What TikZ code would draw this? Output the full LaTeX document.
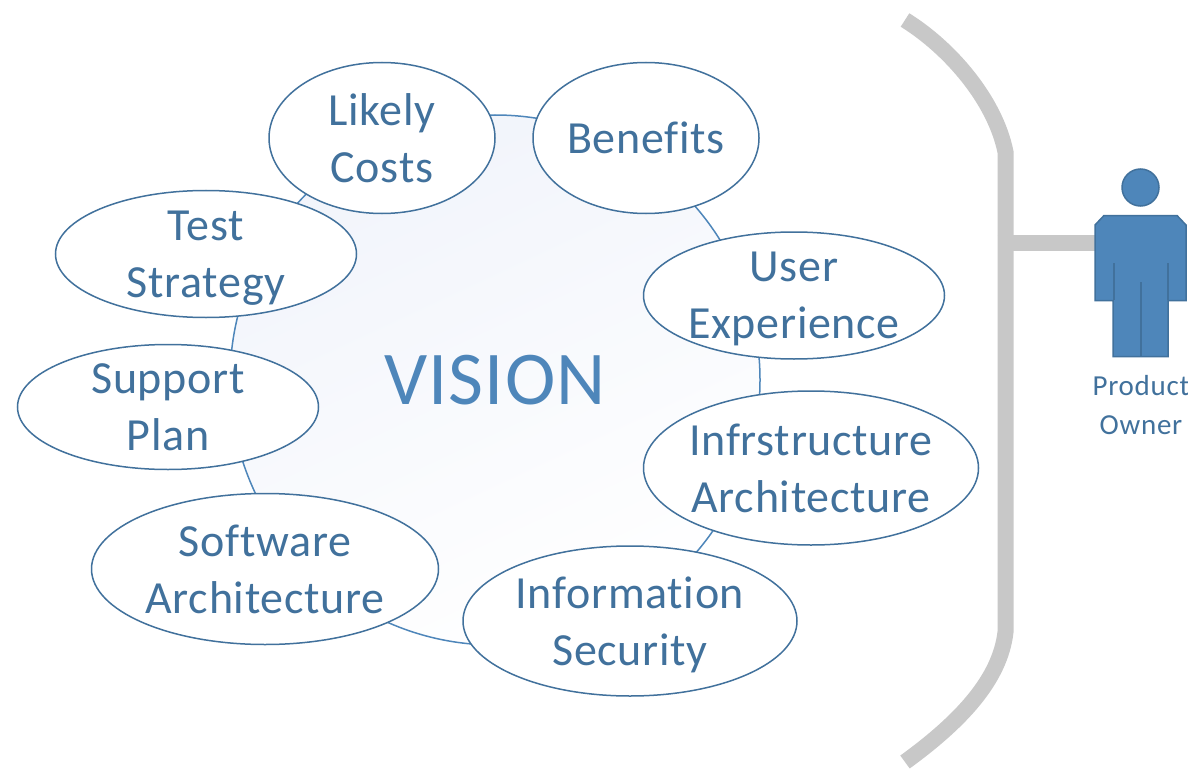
\documentclass[tikz,border=0pt]{standalone}
\usepackage{fontspec}
\setmainfont{Carlito}[Ligatures=NoCommon,LetterSpace=1.5]
\newfontfamily\captionfont{Carlito}[Ligatures=NoCommon,LetterSpace=2.5]
\usetikzlibrary{shapes.geometric}
\definecolor{edgeblue}{HTML}{41719C}
\definecolor{fillblue}{HTML}{4E86BA}
\definecolor{bargrey}{HTML}{C8C8C8}
\definecolor{pale}{HTML}{F1F4FB}
\definecolor{shadowblue}{HTML}{E6EEF6}
\tikzset{
  topic/.style={ellipse,draw=edgeblue,line width=1.5pt,fill=white,inner ysep=0pt,inner xsep=-12pt,
    text=edgeblue,align=center,text depth=0pt,font=\fontsize{46}{57}\selectfont},
  ring/.style={circle,draw=fillblue,line width=1.5pt,inner sep=0pt,minimum size=530pt,
    shading=axis,top color=pale,middle color=white,bottom color=white,shading angle=25,
    text=fillblue,font=\fontsize{76}{80}\selectfont},
  bracket/.style={draw=bargrey,line width=16pt,
    preaction={draw=shadowblue,transform canvas={xshift=1pt,yshift=-2pt}}},
  personpart/.style={fill=fillblue,draw=edgeblue,line width=1.5pt,line join=miter},
  personline/.style={draw=edgeblue,line width=2pt},
  caption/.style={text=edgeblue,align=center,inner sep=0pt,font=\captionfont\fontsize{29}{39}\selectfont}
}
\begin{document}
\begin{tikzpicture}[x=1pt,y=-1pt]
\useasboundingbox (0,0) rectangle (1188,770);
\clip (0,0) rectangle (1188,770);
\fill[white] (0,0) rectangle (1188,770);
\node[ring] (vision) at (495,380) {VISION};
\node[topic,minimum width=226pt,minimum height=151pt] (costs) at (382,138) {Likely\\Costs};
\node[topic,minimum width=226pt,minimum height=151pt] (benefits) at (646,138) {Benefits};
\node[topic,minimum width=301pt,minimum height=127pt] (test) at (206,254) {Test\\Strategy};
\node[topic,minimum width=301pt,minimum height=127pt] (user) at (794,295.5) {User\\Experience};
\node[topic,minimum width=301pt,minimum height=125pt] (support) at (168,407) {Support\\Plan};
\node[topic,minimum width=335pt,minimum height=154pt] (infra) at (811,468) {Infrstructure\\Architecture};
\node[topic,minimum width=347pt,minimum height=151pt] (software) at (265,569) {Software\\Architecture};
\node[topic,minimum width=334pt,minimum height=150pt] (info) at (630,621) {Information\\Security};
% bracket
\coordinate (bt) at (905,20);
\coordinate (bu) at (1005.5,152);
\coordinate (bl) at (1005.5,632);
\coordinate (bb) at (905,762);
\coordinate (bj) at (997.5,243);
\coordinate (pj) at (1097,243);
\draw[bracket] (bt) .. controls (950,48) and (995,100) .. (bu) -- (bl) .. controls (1000,680) and (960,722) .. (bb);
\draw[bracket] (bj) -- (pj);
% person
\node[circle,personpart,minimum size=37pt,inner sep=0pt] (head) at (1140.5,187.5) {};
\path[personpart] (1104,215.5) -- (1177,215.5) -- (1186,225) -- (1186,300.5) -- (1168,300.5) -- (1168,356.5)
  -- (1113,356.5) -- (1113,300.5) -- (1095,300.5) -- (1095,225) -- cycle;
\draw[personline] (1113.5,263) -- (1113.5,300);
\draw[personline] (1167.5,263) -- (1167.5,300);
\draw[personline] (1140.5,282) -- (1140.5,356);
\node[caption] (owner) at (1141,405.5) {Product\\Owner};
\end{tikzpicture}
\end{document}
